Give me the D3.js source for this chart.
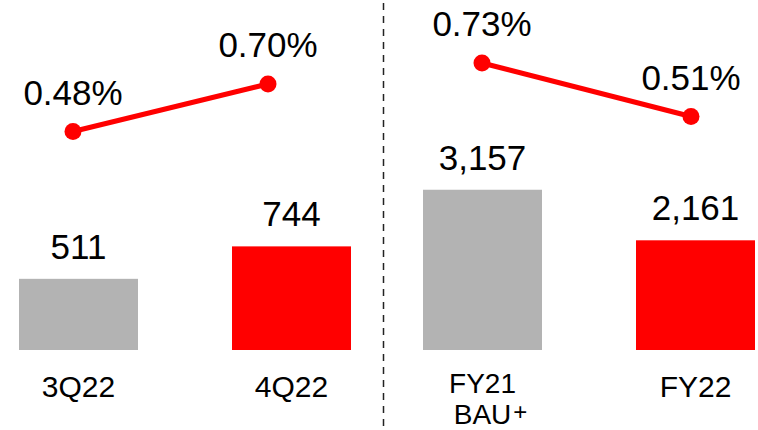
<!DOCTYPE html>
<html>
<head>
<meta charset="utf-8">
<script src="https://cdn.jsdelivr.net/npm/d3@7"></script>
<style>
  html, body { margin: 0; padding: 0; background: #ffffff; }
  svg { display: block; }
  text { font-family: "Liberation Sans", Arial, sans-serif; fill: #000; }
</style>
</head>
<body>
<svg id="chart" width="758" height="430"></svg>
<script>
// ---- data ----
const leftCategories = ["3Q22", "4Q22"];
const leftValues = [511, 744];
const leftRates = [0.48, 0.70];
const leftValueLabels = ["511", "744"];
const leftRateLabels = ["0.48%", "0.70%"];

const rightCategories = ["FY21", "FY22"];
const rightSubLabels = ["BAU", ""];
const rightValues = [3157, 2161];
const rightRates = [0.73, 0.51];
const rightValueLabels = ["3,157", "2,161"];
const rightRateLabels = ["0.73%", "0.51%"];

const barColors = ["#b3b3b3", "#ff0000"];
const lineColor = "#ff0000";

const svg = d3.select("#chart");
const baseY = 350;

function panel(cfg) {
  const x = d3.scaleBand().domain(cfg.cats).range(cfg.barRange)
    .paddingInner(1 - 119 / 213).paddingOuter(0);
  const y = d3.scaleLinear().domain([0, cfg.barMax]).range([baseY, cfg.barTop]);
  const xl = d3.scalePoint().domain(cfg.cats).range(cfg.lineRange);
  const yl = d3.scaleLinear().domain([0.4, 0.8]).range(cfg.lineRangeY);

  const g = svg.append("g");
  const data = cfg.cats.map((c, i) => ({
    c, v: cfg.values[i], r: cfg.rates[i], vl: cfg.valueLabels[i], rl: cfg.rateLabels[i],
    sub: cfg.sub ? cfg.sub[i] : "", i
  }));

  g.selectAll("rect.bar").data(data).join("rect")
    .attr("class", "bar")
    .attr("x", d => x(d.c))
    .attr("y", d => y(d.v))
    .attr("width", x.bandwidth())
    .attr("height", d => baseY - y(d.v))
    .attr("fill", d => barColors[d.i]);

  g.selectAll("text.val").data(data).join("text")
    .attr("class", "val")
    .attr("x", d => x(d.c) + x.bandwidth() / 2)
    .attr("y", d => y(d.v) - 20)
    .attr("text-anchor", "middle")
    .attr("font-size", 35)
    .text(d => d.vl);

  data.forEach(d => {
    const cx = x(d.c) + x.bandwidth() / 2;
    if (!d.sub) {
      g.append("text").attr("class", "cat")
        .attr("x", cx).attr("y", 397)
        .attr("text-anchor", "middle")
        .attr("font-size", 30)
        .text(d.c);
    } else {
      g.append("text").attr("class", "cat")
        .attr("x", cx).attr("y", 392.5)
        .attr("text-anchor", "middle")
        .attr("font-size", 28)
        .text(d.c);
      const s = g.append("text")
        .attr("x", cx).attr("y", 424)
        .attr("text-anchor", "middle")
        .attr("font-size", 28)
        .text(d.sub);
      const w = s.node().getComputedTextLength();
      g.append("text")
        .attr("x", cx + w / 2 + 2).attr("y", 420)
        .attr("font-size", 24)
        .text("+");
    }
  });

  const line = d3.line().x(d => xl(d.c)).y(d => yl(d.r));
  g.append("path").datum(data)
    .attr("d", line)
    .attr("fill", "none")
    .attr("stroke", lineColor)
    .attr("stroke-width", 5);

  g.selectAll("circle.dot").data(data).join("circle")
    .attr("class", "dot")
    .attr("cx", d => xl(d.c))
    .attr("cy", d => yl(d.r))
    .attr("r", 8.5)
    .attr("fill", lineColor);

  g.selectAll("text.rate").data(data).join("text")
    .attr("class", "rate")
    .attr("x", d => xl(d.c))
    .attr("y", d => yl(d.r) - 27)
    .attr("text-anchor", "middle")
    .attr("font-size", 35)
    .text(d => d.rl);
}

panel({
  cats: leftCategories, values: leftValues, rates: leftRates,
  valueLabels: leftValueLabels, rateLabels: leftRateLabels,
  barRange: [19, 351], barMax: 1000, barTop: 350 - 1000 / 7.18,
  lineRange: [73, 268], lineRangeY: [148.8, 62.4]
});

panel({
  cats: rightCategories, values: rightValues, rates: rightRates,
  valueLabels: rightValueLabels, rateLabels: rightRateLabels,
  sub: rightSubLabels,
  barRange: [423, 755], barMax: 4000, barTop: 350 - 4000 / 19.7,
  lineRange: [482, 691], lineRangeY: [143.3, 46.0]
});

// divider
svg.append("line")
  .attr("x1", 383.5).attr("x2", 383.5)
  .attr("y1", 3).attr("y2", 430)
  .attr("stroke", "#222")
  .attr("stroke-width", 1.5)
  .attr("stroke-dasharray", "7,6");
</script>
</body>
</html>
